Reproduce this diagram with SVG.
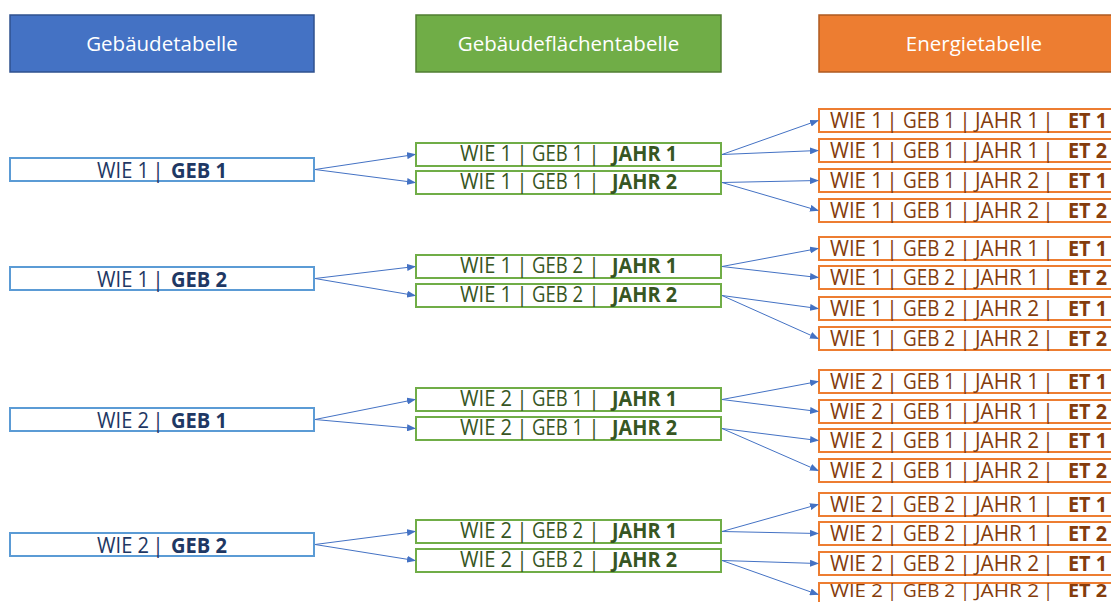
<svg xmlns="http://www.w3.org/2000/svg" width="1111" height="602" viewBox="0 0 1111 602">
<defs>
<marker id="ah" markerWidth="9" markerHeight="7" refX="8" refY="3.5" orient="auto" markerUnits="userSpaceOnUse">
<path d="M0,0 L9,3.5 L0,7 z" fill="#4472C4"/>
</marker>
<style>
text{font-family:"Open Sans","Noto Sans","Liberation Sans",sans-serif;font-size:21px}
.hd{fill:#fff;text-anchor:middle;font-size:20.5px}
.b{font-weight:bold}
.p{text-anchor:middle}
.lb{fill:#fff;stroke:#5B9BD5;stroke-width:2}
.gb{fill:#fff;stroke:#70AD47;stroke-width:2}
.ob{fill:#fff;stroke:#ED7D31;stroke-width:2}
.lt{fill:#1F3864}
.gt{fill:#375623}
.ot{fill:#843C0C}
.sm{font-size:18.5px}
.c line{stroke:#4472C4;stroke-width:1;marker-end:url(#ah)}
</style>
</defs>
<rect width="1111" height="602" fill="#fff"/>

<g id="hdr-gebaeude">
<rect x="10" y="15" width="304" height="57" fill="#4472C4" stroke="#2F528F" stroke-width="1.5"/>
<text class="hd" x="162" y="51">Gebäudetabelle</text>
</g>
<g id="hdr-flaechen">
<rect x="416" y="15" width="305" height="57" fill="#70AD47" stroke="#507E32" stroke-width="1.5"/>
<text class="hd" x="568.5" y="51">Gebäudeflächentabelle</text>
</g>
<g id="hdr-energie">
<rect x="819" y="15" width="310" height="57" fill="#ED7D31" stroke="#AE5A21" stroke-width="1.5"/>
<text class="hd" x="974" y="51">Energietabelle</text>
</g>

<g id="left-1"><rect class="lb" x="10" y="158" width="304" height="23"/>
<text class="lt" y="178"><tspan x="97" textLength="52" lengthAdjust="spacingAndGlyphs">WIE 1</tspan><tspan class="p" x="158">|</tspan><tspan class="b" x="171" textLength="56" lengthAdjust="spacingAndGlyphs">GEB 1</tspan></text></g>
<g id="left-2"><rect class="lb" x="10" y="267" width="304" height="23"/>
<text class="lt" y="287"><tspan x="97" textLength="52" lengthAdjust="spacingAndGlyphs">WIE 1</tspan><tspan class="p" x="158">|</tspan><tspan class="b" x="171" textLength="56" lengthAdjust="spacingAndGlyphs">GEB 2</tspan></text></g>
<g id="left-3"><rect class="lb" x="10" y="408" width="304" height="23"/>
<text class="lt" y="428"><tspan x="97" textLength="52" lengthAdjust="spacingAndGlyphs">WIE 2</tspan><tspan class="p" x="158">|</tspan><tspan class="b" x="171" textLength="56" lengthAdjust="spacingAndGlyphs">GEB 1</tspan></text></g>
<g id="left-4"><rect class="lb" x="10" y="533" width="304" height="23"/>
<text class="lt" y="553"><tspan x="97" textLength="52" lengthAdjust="spacingAndGlyphs">WIE 2</tspan><tspan class="p" x="158">|</tspan><tspan class="b" x="171" textLength="56" lengthAdjust="spacingAndGlyphs">GEB 2</tspan></text></g>

<g id="mid-1-1-1"><rect class="gb" x="416" y="143" width="305" height="23"/>
<text class="gt" y="161"><tspan x="460" textLength="52" lengthAdjust="spacingAndGlyphs">WIE 1</tspan><tspan class="p" x="522">|</tspan><tspan x="532" textLength="51" lengthAdjust="spacingAndGlyphs">GEB 1</tspan><tspan class="p" x="594">|</tspan><tspan class="b" x="612" textLength="65" lengthAdjust="spacingAndGlyphs">JAHR 1</tspan></text></g>
<g id="mid-1-1-2"><rect class="gb" x="416" y="171" width="305" height="23"/>
<text class="gt" y="189"><tspan x="460" textLength="52" lengthAdjust="spacingAndGlyphs">WIE 1</tspan><tspan class="p" x="522">|</tspan><tspan x="532" textLength="51" lengthAdjust="spacingAndGlyphs">GEB 1</tspan><tspan class="p" x="594">|</tspan><tspan class="b" x="612" textLength="65" lengthAdjust="spacingAndGlyphs">JAHR 2</tspan></text></g>
<g id="mid-1-2-1"><rect class="gb" x="416" y="255" width="305" height="23"/>
<text class="gt" y="273"><tspan x="460" textLength="52" lengthAdjust="spacingAndGlyphs">WIE 1</tspan><tspan class="p" x="522">|</tspan><tspan x="532" textLength="51" lengthAdjust="spacingAndGlyphs">GEB 2</tspan><tspan class="p" x="594">|</tspan><tspan class="b" x="612" textLength="65" lengthAdjust="spacingAndGlyphs">JAHR 1</tspan></text></g>
<g id="mid-1-2-2"><rect class="gb" x="416" y="284" width="305" height="23"/>
<text class="gt" y="302"><tspan x="460" textLength="52" lengthAdjust="spacingAndGlyphs">WIE 1</tspan><tspan class="p" x="522">|</tspan><tspan x="532" textLength="51" lengthAdjust="spacingAndGlyphs">GEB 2</tspan><tspan class="p" x="594">|</tspan><tspan class="b" x="612" textLength="65" lengthAdjust="spacingAndGlyphs">JAHR 2</tspan></text></g>
<g id="mid-2-1-1"><rect class="gb" x="416" y="388" width="305" height="23"/>
<text class="gt" y="406"><tspan x="460" textLength="52" lengthAdjust="spacingAndGlyphs">WIE 2</tspan><tspan class="p" x="522">|</tspan><tspan x="532" textLength="51" lengthAdjust="spacingAndGlyphs">GEB 1</tspan><tspan class="p" x="594">|</tspan><tspan class="b" x="612" textLength="65" lengthAdjust="spacingAndGlyphs">JAHR 1</tspan></text></g>
<g id="mid-2-1-2"><rect class="gb" x="416" y="417" width="305" height="23"/>
<text class="gt" y="435"><tspan x="460" textLength="52" lengthAdjust="spacingAndGlyphs">WIE 2</tspan><tspan class="p" x="522">|</tspan><tspan x="532" textLength="51" lengthAdjust="spacingAndGlyphs">GEB 1</tspan><tspan class="p" x="594">|</tspan><tspan class="b" x="612" textLength="65" lengthAdjust="spacingAndGlyphs">JAHR 2</tspan></text></g>
<g id="mid-2-2-1"><rect class="gb" x="416" y="520" width="305" height="23"/>
<text class="gt" y="538"><tspan x="460" textLength="52" lengthAdjust="spacingAndGlyphs">WIE 2</tspan><tspan class="p" x="522">|</tspan><tspan x="532" textLength="51" lengthAdjust="spacingAndGlyphs">GEB 2</tspan><tspan class="p" x="594">|</tspan><tspan class="b" x="612" textLength="65" lengthAdjust="spacingAndGlyphs">JAHR 1</tspan></text></g>
<g id="mid-2-2-2"><rect class="gb" x="416" y="549" width="305" height="23"/>
<text class="gt" y="567"><tspan x="460" textLength="52" lengthAdjust="spacingAndGlyphs">WIE 2</tspan><tspan class="p" x="522">|</tspan><tspan x="532" textLength="51" lengthAdjust="spacingAndGlyphs">GEB 2</tspan><tspan class="p" x="594">|</tspan><tspan class="b" x="612" textLength="65" lengthAdjust="spacingAndGlyphs">JAHR 2</tspan></text></g>

<g id="et-1-1-1-1"><rect class="ob" x="819" y="109" width="310" height="23"/>
<text class="ot" y="128"><tspan x="830" textLength="53" lengthAdjust="spacingAndGlyphs">WIE 1</tspan><tspan class="p" x="892">|</tspan><tspan x="903" textLength="52" lengthAdjust="spacingAndGlyphs">GEB 1</tspan><tspan class="p" x="965">|</tspan><tspan x="975" textLength="64" lengthAdjust="spacingAndGlyphs">JAHR 1</tspan><tspan class="p" x="1048">|</tspan><tspan class="b" x="1068" textLength="39" lengthAdjust="spacingAndGlyphs">ET 1</tspan></text></g>
<g id="et-1-1-1-2"><rect class="ob" x="819" y="139" width="310" height="23"/>
<text class="ot" y="158"><tspan x="830" textLength="53" lengthAdjust="spacingAndGlyphs">WIE 1</tspan><tspan class="p" x="892">|</tspan><tspan x="903" textLength="52" lengthAdjust="spacingAndGlyphs">GEB 1</tspan><tspan class="p" x="965">|</tspan><tspan x="975" textLength="64" lengthAdjust="spacingAndGlyphs">JAHR 1</tspan><tspan class="p" x="1048">|</tspan><tspan class="b" x="1068" textLength="39" lengthAdjust="spacingAndGlyphs">ET 2</tspan></text></g>
<g id="et-1-1-2-1"><rect class="ob" x="819" y="169" width="310" height="23"/>
<text class="ot" y="188"><tspan x="830" textLength="53" lengthAdjust="spacingAndGlyphs">WIE 1</tspan><tspan class="p" x="892">|</tspan><tspan x="903" textLength="52" lengthAdjust="spacingAndGlyphs">GEB 1</tspan><tspan class="p" x="965">|</tspan><tspan x="975" textLength="64" lengthAdjust="spacingAndGlyphs">JAHR 2</tspan><tspan class="p" x="1048">|</tspan><tspan class="b" x="1068" textLength="39" lengthAdjust="spacingAndGlyphs">ET 1</tspan></text></g>
<g id="et-1-1-2-2"><rect class="ob" x="819" y="199" width="310" height="23"/>
<text class="ot" y="218"><tspan x="830" textLength="53" lengthAdjust="spacingAndGlyphs">WIE 1</tspan><tspan class="p" x="892">|</tspan><tspan x="903" textLength="52" lengthAdjust="spacingAndGlyphs">GEB 1</tspan><tspan class="p" x="965">|</tspan><tspan x="975" textLength="64" lengthAdjust="spacingAndGlyphs">JAHR 2</tspan><tspan class="p" x="1048">|</tspan><tspan class="b" x="1068" textLength="39" lengthAdjust="spacingAndGlyphs">ET 2</tspan></text></g>

<g id="et-1-2-1-1"><rect class="ob" x="819" y="237" width="310" height="23"/>
<text class="ot" y="256"><tspan x="830" textLength="53" lengthAdjust="spacingAndGlyphs">WIE 1</tspan><tspan class="p" x="892">|</tspan><tspan x="903" textLength="52" lengthAdjust="spacingAndGlyphs">GEB 2</tspan><tspan class="p" x="965">|</tspan><tspan x="975" textLength="64" lengthAdjust="spacingAndGlyphs">JAHR 1</tspan><tspan class="p" x="1048">|</tspan><tspan class="b" x="1068" textLength="39" lengthAdjust="spacingAndGlyphs">ET 1</tspan></text></g>
<g id="et-1-2-1-2"><rect class="ob" x="819" y="266" width="310" height="23"/>
<text class="ot" y="285"><tspan x="830" textLength="53" lengthAdjust="spacingAndGlyphs">WIE 1</tspan><tspan class="p" x="892">|</tspan><tspan x="903" textLength="52" lengthAdjust="spacingAndGlyphs">GEB 2</tspan><tspan class="p" x="965">|</tspan><tspan x="975" textLength="64" lengthAdjust="spacingAndGlyphs">JAHR 1</tspan><tspan class="p" x="1048">|</tspan><tspan class="b" x="1068" textLength="39" lengthAdjust="spacingAndGlyphs">ET 2</tspan></text></g>
<g id="et-1-2-2-1"><rect class="ob" x="819" y="297" width="310" height="23"/>
<text class="ot" y="316"><tspan x="830" textLength="53" lengthAdjust="spacingAndGlyphs">WIE 1</tspan><tspan class="p" x="892">|</tspan><tspan x="903" textLength="52" lengthAdjust="spacingAndGlyphs">GEB 2</tspan><tspan class="p" x="965">|</tspan><tspan x="975" textLength="64" lengthAdjust="spacingAndGlyphs">JAHR 2</tspan><tspan class="p" x="1048">|</tspan><tspan class="b" x="1068" textLength="39" lengthAdjust="spacingAndGlyphs">ET 1</tspan></text></g>
<g id="et-1-2-2-2"><rect class="ob" x="819" y="327" width="310" height="23"/>
<text class="ot" y="346"><tspan x="830" textLength="53" lengthAdjust="spacingAndGlyphs">WIE 1</tspan><tspan class="p" x="892">|</tspan><tspan x="903" textLength="52" lengthAdjust="spacingAndGlyphs">GEB 2</tspan><tspan class="p" x="965">|</tspan><tspan x="975" textLength="64" lengthAdjust="spacingAndGlyphs">JAHR 2</tspan><tspan class="p" x="1048">|</tspan><tspan class="b" x="1068" textLength="39" lengthAdjust="spacingAndGlyphs">ET 2</tspan></text></g>

<g id="et-2-1-1-1"><rect class="ob" x="819" y="370" width="310" height="23"/>
<text class="ot" y="389"><tspan x="830" textLength="53" lengthAdjust="spacingAndGlyphs">WIE 2</tspan><tspan class="p" x="892">|</tspan><tspan x="903" textLength="52" lengthAdjust="spacingAndGlyphs">GEB 1</tspan><tspan class="p" x="965">|</tspan><tspan x="975" textLength="64" lengthAdjust="spacingAndGlyphs">JAHR 1</tspan><tspan class="p" x="1048">|</tspan><tspan class="b" x="1068" textLength="39" lengthAdjust="spacingAndGlyphs">ET 1</tspan></text></g>
<g id="et-2-1-1-2"><rect class="ob" x="819" y="400" width="310" height="23"/>
<text class="ot" y="419"><tspan x="830" textLength="53" lengthAdjust="spacingAndGlyphs">WIE 2</tspan><tspan class="p" x="892">|</tspan><tspan x="903" textLength="52" lengthAdjust="spacingAndGlyphs">GEB 1</tspan><tspan class="p" x="965">|</tspan><tspan x="975" textLength="64" lengthAdjust="spacingAndGlyphs">JAHR 1</tspan><tspan class="p" x="1048">|</tspan><tspan class="b" x="1068" textLength="39" lengthAdjust="spacingAndGlyphs">ET 2</tspan></text></g>
<g id="et-2-1-2-1"><rect class="ob" x="819" y="429" width="310" height="23"/>
<text class="ot" y="448"><tspan x="830" textLength="53" lengthAdjust="spacingAndGlyphs">WIE 2</tspan><tspan class="p" x="892">|</tspan><tspan x="903" textLength="52" lengthAdjust="spacingAndGlyphs">GEB 1</tspan><tspan class="p" x="965">|</tspan><tspan x="975" textLength="64" lengthAdjust="spacingAndGlyphs">JAHR 2</tspan><tspan class="p" x="1048">|</tspan><tspan class="b" x="1068" textLength="39" lengthAdjust="spacingAndGlyphs">ET 1</tspan></text></g>
<g id="et-2-1-2-2"><rect class="ob" x="819" y="459" width="310" height="23"/>
<text class="ot" y="478"><tspan x="830" textLength="53" lengthAdjust="spacingAndGlyphs">WIE 2</tspan><tspan class="p" x="892">|</tspan><tspan x="903" textLength="52" lengthAdjust="spacingAndGlyphs">GEB 1</tspan><tspan class="p" x="965">|</tspan><tspan x="975" textLength="64" lengthAdjust="spacingAndGlyphs">JAHR 2</tspan><tspan class="p" x="1048">|</tspan><tspan class="b" x="1068" textLength="39" lengthAdjust="spacingAndGlyphs">ET 2</tspan></text></g>

<g id="et-2-2-1-1"><rect class="ob" x="819" y="493" width="310" height="23"/>
<text class="ot" y="512"><tspan x="830" textLength="53" lengthAdjust="spacingAndGlyphs">WIE 2</tspan><tspan class="p" x="892">|</tspan><tspan x="903" textLength="52" lengthAdjust="spacingAndGlyphs">GEB 2</tspan><tspan class="p" x="965">|</tspan><tspan x="975" textLength="64" lengthAdjust="spacingAndGlyphs">JAHR 1</tspan><tspan class="p" x="1048">|</tspan><tspan class="b" x="1068" textLength="39" lengthAdjust="spacingAndGlyphs">ET 1</tspan></text></g>
<g id="et-2-2-1-2"><rect class="ob" x="819" y="522" width="310" height="23"/>
<text class="ot" y="541"><tspan x="830" textLength="53" lengthAdjust="spacingAndGlyphs">WIE 2</tspan><tspan class="p" x="892">|</tspan><tspan x="903" textLength="52" lengthAdjust="spacingAndGlyphs">GEB 2</tspan><tspan class="p" x="965">|</tspan><tspan x="975" textLength="64" lengthAdjust="spacingAndGlyphs">JAHR 1</tspan><tspan class="p" x="1048">|</tspan><tspan class="b" x="1068" textLength="39" lengthAdjust="spacingAndGlyphs">ET 2</tspan></text></g>
<g id="et-2-2-2-1"><rect class="ob" x="819" y="552" width="310" height="23"/>
<text class="ot" y="571"><tspan x="830" textLength="53" lengthAdjust="spacingAndGlyphs">WIE 2</tspan><tspan class="p" x="892">|</tspan><tspan x="903" textLength="52" lengthAdjust="spacingAndGlyphs">GEB 2</tspan><tspan class="p" x="965">|</tspan><tspan x="975" textLength="64" lengthAdjust="spacingAndGlyphs">JAHR 2</tspan><tspan class="p" x="1048">|</tspan><tspan class="b" x="1068" textLength="39" lengthAdjust="spacingAndGlyphs">ET 1</tspan></text></g>
<g id="et-2-2-2-2"><rect class="ob" x="819" y="583" width="310" height="23"/>
<text class="ot sm" y="596.5"><tspan x="830" textLength="53" lengthAdjust="spacingAndGlyphs">WIE 2</tspan><tspan class="p" x="892">|</tspan><tspan x="903" textLength="52" lengthAdjust="spacingAndGlyphs">GEB 2</tspan><tspan class="p" x="965">|</tspan><tspan x="975" textLength="64" lengthAdjust="spacingAndGlyphs">JAHR 2</tspan><tspan class="p" x="1048">|</tspan><tspan class="b" x="1068" textLength="39" lengthAdjust="spacingAndGlyphs">ET 2</tspan></text></g>

<g id="connectors" class="c">
<line x1="315" y1="169.5" x2="415" y2="154.5"/>
<line x1="315" y1="169.5" x2="415" y2="182.5"/>
<line x1="315" y1="278.5" x2="415" y2="266.5"/>
<line x1="315" y1="278.5" x2="415" y2="295.5"/>
<line x1="315" y1="419.5" x2="415" y2="399.5"/>
<line x1="315" y1="419.5" x2="415" y2="428.5"/>
<line x1="315" y1="544.5" x2="415" y2="531.5"/>
<line x1="315" y1="544.5" x2="415" y2="560.5"/>
<line x1="722" y1="154.5" x2="818" y2="120.5"/>
<line x1="722" y1="154.5" x2="818" y2="150.5"/>
<line x1="722" y1="182.5" x2="818" y2="180.5"/>
<line x1="722" y1="182.5" x2="818" y2="210.5"/>
<line x1="722" y1="266.5" x2="818" y2="248.5"/>
<line x1="722" y1="266.5" x2="818" y2="277.5"/>
<line x1="722" y1="295.5" x2="818" y2="308.5"/>
<line x1="722" y1="295.5" x2="818" y2="338.5"/>
<line x1="722" y1="399.5" x2="818" y2="381.5"/>
<line x1="722" y1="399.5" x2="818" y2="411.5"/>
<line x1="722" y1="428.5" x2="818" y2="440.5"/>
<line x1="722" y1="428.5" x2="818" y2="470.5"/>
<line x1="722" y1="531.5" x2="818" y2="504.5"/>
<line x1="722" y1="531.5" x2="818" y2="533.5"/>
<line x1="722" y1="560.5" x2="818" y2="563.5"/>
<line x1="722" y1="560.5" x2="818" y2="594.5"/>
</g>
</svg>
